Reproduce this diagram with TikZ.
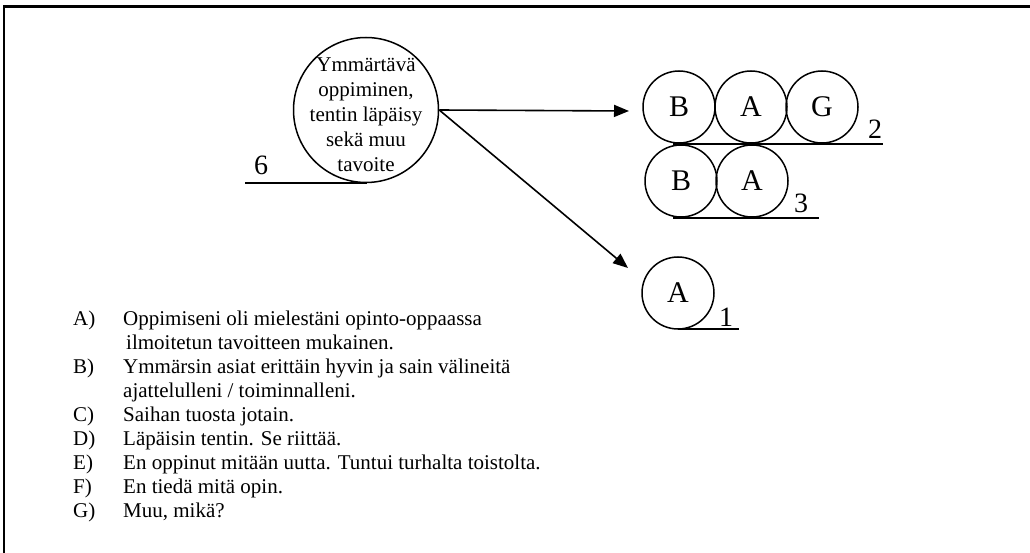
\documentclass[tikz,border=0pt]{standalone}
\usepackage{fontspec}
\setmainfont{Liberation Serif}
\usetikzlibrary{arrows.meta}
\tikzset{
  ring/.style={circle, draw, line width=1.5pt, minimum size=72pt, inner sep=0pt, font=\fontsize{30}{32}\selectfont},
  bigring/.style={circle, draw, line width=1.5pt, minimum size=145pt, inner sep=0pt},
  ctext/.style={align=center, font=\fontsize{21}{25}\selectfont, inner sep=0pt},
  numlab/.style={font=\fontsize{28}{30}\selectfont, inner sep=0pt},
  baseline/.style={line width=1.6pt},
  conn/.style={line width=1.6pt, -{Triangle[length=15pt, width=12pt]}},
  item/.style={anchor=base west, font=\fontsize{21}{24}\selectfont, inner sep=0pt},
}
\begin{document}
\begin{tikzpicture}[x=1pt, y=-1pt]
\useasboundingbox (0,0) rectangle (1030,553);
% frame
\draw[line width=2.6pt] (3,6.5) -- (1030,6.5);
\draw[line width=1.6pt] (3.8,6) -- (3.8,553);

% main circle
\node[bigring] (m) at (366,110) {};
\node[ctext] (mt) at (366,115) {Ymmärtävä\\oppiminen,\\tentin läpäisy\\sekä muu\\tavoite};
\coordinate (l6a) at (245,183);
\coordinate (l6b) at (367,183);
\draw[baseline] (l6a) -- (l6b);
\node[numlab] (n6) at (261,165) {6};

% row 2
\node[ring] (b1) at (679,107) {B};
\node[ring] (a1) at (751,107) {A};
\node[ring] (g1) at (822,107) {G};
\coordinate (l2a) at (673,144);
\coordinate (l2b) at (883,144);
\draw[baseline] (l2a) -- (l2b);
\node[numlab] (n2) at (875,129) {2};

% row 3
\node[ring] (b2) at (681,181) {B};
\node[ring] (a2) at (752,181) {A};
\coordinate (l3a) at (673,218);
\coordinate (l3b) at (819,218);
\draw[baseline] (l3a) -- (l3b);
\node[numlab] (n3) at (801,203) {3};

% single
\node[ring] (a3) at (678,293) {A};
\coordinate (l1a) at (678,329);
\coordinate (l1b) at (739,329);
\draw[baseline] (l1a) -- (l1b);
\node[numlab] (n1) at (726,317) {1};

% arrows
\coordinate (t1) at (629,111);
\coordinate (t2) at (628,268);
\draw[conn] (m.east) -- (t1);
\draw[conn] (m.east) -- (t2);

% list
\node[item] (la) at (73,325) {A)};
\node[item] (ta) at (123,325) {Oppimiseni oli mielestäni opinto-oppaassa};
\node[item] (ta2) at (126,349) {ilmoitetun tavoitteen mukainen.};
\node[item] (lb) at (73,373) {B)};
\node[item] (tb) at (123,373) {Ymmärsin asiat erittäin hyvin ja sain välineitä};
\node[item] (tb2) at (123,397) {ajattelulleni / toiminnalleni.};
\node[item] (lc) at (73,421) {C)};
\node[item] (tc) at (123,421) {Saihan tuosta jotain.};
\node[item] (ld) at (73,445) {D)};
\node[item] (td) at (123,445) {Läpäisin tentin. Se riittää.};
\node[item] (le) at (73,469) {E)};
\node[item] (te) at (123,469) {En oppinut mitään uutta. Tuntui turhalta toistolta.};
\node[item] (lf) at (73,493) {F)};
\node[item] (tf) at (123,493) {En tiedä mitä opin.};
\node[item] (lg) at (73,517) {G)};
\node[item] (tg) at (123,517) {Muu, mikä?};
\end{tikzpicture}
\end{document}
